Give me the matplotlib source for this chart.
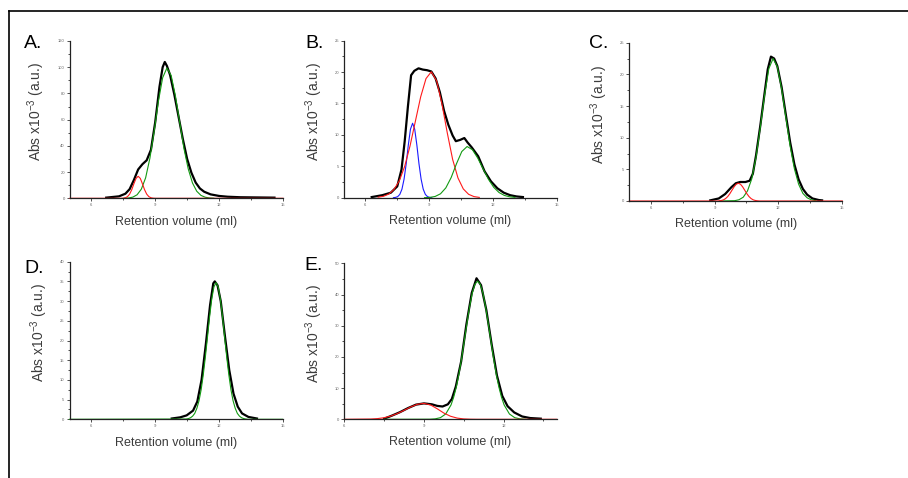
import matplotlib
matplotlib.use("Agg")
import matplotlib.pyplot as plt
from matplotlib.lines import Line2D
from matplotlib.ticker import MultipleLocator

plt.rcParams['font.family'] = ['Liberation Sans', 'DejaVu Sans']
plt.rcParams['mathtext.default'] = 'regular'

# ---- Panel A: elution profile and fitted peaks ----
a_black_ml = [6.7, 7.0, 7.3, 7.6, 7.8, 8.0, 8.2, 8.4, 8.6, 8.8, 9.0, 9.2, 9.35, 9.45, 9.55,
              9.7, 9.9, 10.1, 10.3, 10.5, 10.7, 10.9, 11.1, 11.3, 11.6, 12.0, 12.4, 13.0, 14.6]
a_black_abs = [0.5, 1.0, 1.5, 3.5, 7, 14, 22, 26, 29, 37, 58, 85, 100, 104, 101,
               94, 79, 62, 45, 30, 19.5, 12, 7.5, 5, 3, 1.8, 1.2, 0.8, 0.5]
a_green_ml = [7.55, 7.75, 7.95, 8.15, 8.35, 8.55, 8.75, 8.95, 9.15, 9.35, 9.55, 9.75, 9.95,
              10.15, 10.35, 10.55, 10.75, 10.95, 11.15, 11.35, 11.55, 11.75]
a_green_abs = [0.06, 0.25, 0.9, 2.7, 7.0, 15.6, 30.5, 51, 74, 92, 99.4, 93.6, 78,
               58, 38, 22.5, 11.7, 5.4, 2.2, 0.8, 0.26, 0.07]
a_red_ml = [5.0, 7.4, 7.5, 7.6, 7.7, 7.8, 7.9, 8.0, 8.1, 8.2, 8.3, 8.4, 8.5, 8.6, 8.7, 8.8,
            8.9, 9.0, 15.0]
a_red_abs = [0, 0, 0.1, 0.4, 1.3, 3.2, 6.6, 11.1, 15.2, 16.8, 15.2, 11.1, 6.6, 3.2, 1.3, 0.4,
             0.1, 0, 0]

# ---- Panel B ----
b_black_ml = [6.3, 6.8, 7.2, 7.5, 7.7, 7.85, 8.0, 8.15, 8.3, 8.5, 8.7, 8.9, 9.1, 9.3, 9.5,
              9.7, 9.9, 10.1, 10.25, 10.45, 10.65, 10.8, 11.0, 11.3, 11.6, 11.9, 12.2, 12.5,
              12.8, 13.1, 13.4]
b_black_abs = [0.1, 0.4, 0.8, 1.8, 4.5, 9, 14.5, 19.5, 20.2, 20.6, 20.4, 20.3, 20.1, 19.0, 16.8,
               13.8, 11.6, 9.9, 9.0, 9.2, 9.5, 8.8, 8.0, 6.6, 4.2, 2.6, 1.5, 0.8,
               0.4, 0.2, 0.1]
b_blue_ml = [7.32, 7.42, 7.52, 7.62, 7.72, 7.82, 7.92, 8.02, 8.12, 8.22, 8.32, 8.42, 8.52,
             8.62, 8.72, 8.82, 8.92, 9.02, 9.12]
b_blue_abs = [0, 0.05, 0.17, 0.52, 1.35, 2.96, 5.4, 8.4, 10.9, 11.86, 10.9, 8.4, 5.4,
              2.96, 1.35, 0.52, 0.17, 0.05, 0]
b_red_ml = [6.6, 6.85, 7.1, 7.35, 7.6, 7.85, 8.1, 8.35, 8.6, 8.85, 9.1, 9.35, 9.6, 9.85,
            10.1, 10.35, 10.6, 10.85, 11.1, 11.35]
b_red_abs = [0.08, 0.22, 0.57, 1.32, 2.71, 5.0, 8.24, 12.16, 16.06, 18.97, 20.05, 18.6, 14.9, 10.3,
             6.1, 3.15, 1.4, 0.54, 0.18, 0.05]
b_green_ml = [8.78, 9.03, 9.28, 9.53, 9.78, 10.03, 10.28, 10.53, 10.78, 11.03, 11.28, 11.53,
              11.78, 12.03, 12.28, 12.53, 12.78, 13.03]
b_green_abs = [0, 0.05, 0.2, 0.62, 1.56, 3.2, 5.4, 7.35, 8.15, 7.64, 6.3, 4.6,
               2.94, 1.65, 0.82, 0.36, 0.14, 0.05]

# ---- Panel C ----
c_black_ml = [8.8, 9.2, 9.5, 9.8, 10.0, 10.2, 10.45, 10.65, 10.8, 10.95, 11.15, 11.35, 11.5,
              11.65, 11.8, 11.95, 12.15, 12.35, 12.55, 12.75, 12.95, 13.15, 13.35, 13.6, 13.9, 14.05]
c_black_abs = [0.1, 0.4, 1.1, 2.2, 2.8, 3.0, 3.0, 3.2, 4.3, 7.2, 11.9, 17.0, 20.8,
               22.8, 22.5, 21.3, 18.0, 13.6, 9.3, 5.8, 3.4, 1.9, 1.0, 0.4, 0.15, 0.1]
c_green_ml = [9.25, 9.95, 10.15, 10.35, 10.55, 10.75, 10.95, 11.15, 11.35, 11.55, 11.75, 11.95,
              12.15, 12.35, 12.55, 12.75, 12.95, 13.15, 13.35, 13.55, 13.75]
c_green_abs = [0, 0.05, 0.2, 0.6, 1.6, 3.5, 6.9, 11.6, 16.7, 20.9, 22.5, 21.2,
               17.7, 13.2, 8.7, 5.1, 2.65, 1.2, 0.5, 0.18, 0.06]
c_red_ml = [5.0, 9.12, 9.22, 9.32, 9.42, 9.52, 9.62, 9.72, 9.82, 9.92, 10.02, 10.12, 10.22,
            10.32, 10.42, 10.52, 10.62, 10.72, 10.82, 10.92, 11.02, 11.12, 15.0]
c_red_abs = [0, 0, 0.03, 0.08, 0.18, 0.38, 0.7, 1.15, 1.7, 2.24, 2.65, 2.8, 2.65,
             2.24, 1.7, 1.15, 0.7, 0.38, 0.18, 0.08, 0.03, 0, 0]

# ---- Panel D ----
d_black_ml = [9.8, 10.2, 10.5, 10.8, 11.0, 11.2, 11.4, 11.6, 11.75, 11.82, 11.95, 12.1, 12.3,
              12.5, 12.7, 12.9, 13.1, 13.4, 13.8]
d_black_abs = [0.2, 0.5, 1.0, 2.2, 4.5, 10, 19, 29, 34.5, 35, 34, 30, 21,
               12.5, 6.5, 3.2, 1.5, 0.6, 0.2]
d_green_ml = [5.0, 10.48, 10.58, 10.68, 10.78, 10.88, 10.98, 11.08, 11.18, 11.28, 11.38, 11.48,
              11.58, 11.68, 11.78, 11.88, 11.98, 12.08, 12.18, 12.28, 12.38, 12.48, 12.58,
              12.68, 12.78, 12.88, 12.98, 13.08, 13.18, 13.28, 13.38, 15.0]
d_green_abs = [0, 0.07, 0.18, 0.39, 0.8, 1.5, 2.8, 4.7, 7.5, 11.3, 15.9, 21.0,
               26.2, 30.6, 33.6, 34.7, 33.6, 30.6, 26.2, 21.0, 15.9, 11.3, 7.5,
               4.7, 2.8, 1.5, 0.8, 0.39, 0.18, 0.07, 0, 0]

# ---- Panel E ----
e_black_ml = [7.5, 7.8, 8.1, 8.4, 8.7, 9.0, 9.3, 9.5, 9.7, 9.9, 10.05, 10.2, 10.4, 10.6, 10.8,
              10.98, 11.15, 11.35, 11.55, 11.75, 11.95, 12.15, 12.4, 12.7, 13.0, 13.4]
e_black_abs = [0.2, 1.2, 2.3, 3.6, 4.7, 5.1, 4.8, 4.3, 4.1, 4.8, 6.5, 10.5, 18.5, 30.5, 40.5,
               45.2, 43, 35, 24, 14, 7.5, 4.2, 2.2, 0.9, 0.4, 0.2]
e_green_ml = [7.5, 9.22, 9.42, 9.62, 9.82, 10.02, 10.12, 10.22, 10.32, 10.42, 10.52, 10.62,
              10.72, 10.82, 10.92, 11.02, 11.12, 11.22, 11.32, 11.42, 11.52, 11.62, 11.72,
              11.82, 11.92, 12.02, 12.22, 12.42, 12.62, 12.82]
e_green_abs = [0, 0.03, 0.14, 0.52, 1.7, 4.6, 7.1, 10.4, 14.6, 19.6, 25.2, 30.8,
               36.1, 40.5, 43.3, 44.3, 43.3, 40.5, 36.1, 30.8, 25.2, 19.6, 14.6,
               10.4, 7.1, 4.6, 1.7, 0.52, 0.14, 0.03]
e_red_ml = [6.0, 7.0, 7.25, 7.5, 7.75, 8.0, 8.25, 8.5, 8.75, 9.0, 9.25, 9.5, 9.75, 10.0,
            10.25, 10.5, 10.75, 11.0, 14.0]
e_red_abs = [0, 0.09, 0.22, 0.51, 1.03, 1.84, 2.87, 3.95, 4.8, 5.1, 4.6, 3.37, 2.0, 0.98,
             0.39, 0.12, 0.03, 0, 0]

GREEN = '#129a12'
RED = '#ff1a1a'
BLUE = '#1a1aff'
TEXT = '#3c3c3c'

W, H = 908, 478
fig = plt.figure(figsize=(W / 100, H / 100), dpi=100)


def add_panel(left, top, right, bottom):
    return fig.add_axes([left / W, 1 - bottom / H, (right - left) / W, (bottom - top) / H])


def style(ax, xlim, ylim, ystep, ylab_x=-0.09):
    ax.set_xlim(*xlim)
    ax.set_ylim(*ylim)
    for s in ('top', 'right'):
        ax.spines[s].set_visible(False)
    for s in ('left', 'bottom'):
        ax.spines[s].set_linewidth(0.9)
        ax.spines[s].set_color('#222222')
    ax.xaxis.set_major_locator(MultipleLocator(3))
    ax.xaxis.set_minor_locator(MultipleLocator(1.5))
    ax.yaxis.set_major_locator(MultipleLocator(ystep))
    ax.yaxis.set_minor_locator(MultipleLocator(ystep / 2))
    ax.tick_params(which='both', direction='out', color='#333333', width=0.6,
                   labelsize=3, labelcolor='#666666')
    ax.tick_params(which='major', length=2.2, pad=1.5)
    ax.tick_params(which='minor', length=1.4)
    ax.set_xlabel('Retention volume (ml)', fontsize=9, color=TEXT)
    ax.set_ylabel('Abs x10$^{-3}$ (a.u.)', fontsize=10, color=TEXT)
    ax.xaxis.set_label_coords(0.5, -0.11)
    ax.yaxis.set_label_coords(ylab_x, 0.55)


def trace(ax, x, y, color, lw=0.8):
    ax.plot(x, y, color=color, lw=lw, clip_on=False, solid_joinstyle='round')


# A
ax = add_panel(70, 41, 283, 198.3)
style(ax, (5, 15), (0, 120), 20, ylab_x=-0.108)
trace(ax, a_black_ml, a_black_abs, 'black', 1.6)
trace(ax, a_green_ml, a_green_abs, GREEN)
trace(ax, a_red_ml, a_red_abs, RED)

# B
ax = add_panel(344, 40.7, 557, 197.7)
style(ax, (5, 15), (0, 25), 5)
trace(ax, b_black_ml, b_black_abs, 'black', 1.6)
trace(ax, b_blue_ml, b_blue_abs, BLUE)
trace(ax, b_red_ml, b_red_abs, RED)
trace(ax, b_green_ml, b_green_abs, GREEN)

# C
ax = add_panel(629.3, 42.7, 842.3, 201)
style(ax, (5, 15), (0, 25), 5)
trace(ax, c_black_ml, c_black_abs, 'black', 1.6)
trace(ax, c_green_ml, c_green_abs, GREEN)
trace(ax, c_red_ml, c_red_abs, RED)

# D
ax = add_panel(69.5, 261.7, 282.5, 419.3)
style(ax, (5, 15), (0, 40), 5)
trace(ax, d_black_ml, d_black_abs, 'black', 1.6)
trace(ax, d_green_ml, d_green_abs, GREEN)

# E
ax = add_panel(344.3, 263.3, 556.7, 419.3)
style(ax, (6, 14), (0, 50), 10)
trace(ax, e_black_ml, e_black_abs, 'black', 1.6)
trace(ax, e_green_ml, e_green_abs, GREEN)
trace(ax, e_red_ml, e_red_abs, RED)

# panel letters
for letter, x, y in [('A.', 24, 48), ('B.', 305, 48), ('C.', 589, 48),
                     ('D.', 24, 273), ('E.', 304, 270)]:
    fig.text(x / W, 1 - y / H, letter, fontsize=14, va='baseline', ha='left')

# outer frame (open on the right and bottom)
fig.add_artist(Line2D([9 / W, 9 / W], [0, 1 - 11 / H], transform=fig.transFigure,
                      color='black', lw=1.2))
fig.add_artist(Line2D([9 / W, 1], [1 - 11 / H, 1 - 11 / H], transform=fig.transFigure,
                      color='black', lw=1.2))

fig.savefig('out.png', dpi=100)
